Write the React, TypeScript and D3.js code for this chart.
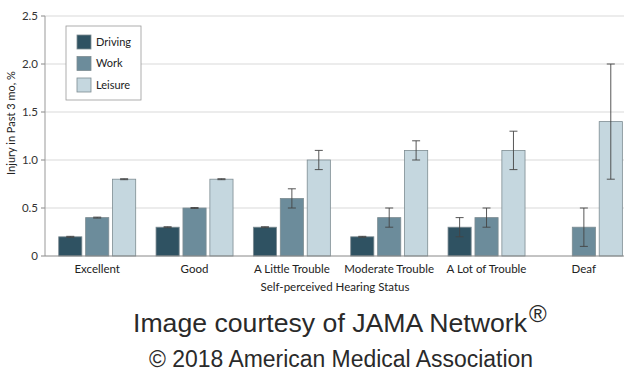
import React from "react";
import * as d3 from "d3";

const categories = ["Excellent", "Good", "A Little Trouble", "Moderate Trouble", "A Lot of Trouble", "Deaf"];
const seriesNames = ["Driving", "Work", "Leisure"];
const drivingValues: (number | null)[] = [0.2, 0.3, 0.3, 0.2, 0.3, null];
const drivingLow: (number | null)[] = [0.195, 0.295, 0.295, 0.195, 0.2, null];
const drivingHigh: (number | null)[] = [0.205, 0.305, 0.305, 0.205, 0.4, null];
const workValues = [0.4, 0.5, 0.6, 0.4, 0.4, 0.3];
const workLow = [0.395, 0.495, 0.5, 0.3, 0.3, 0.1];
const workHigh = [0.405, 0.505, 0.7, 0.5, 0.5, 0.5];
const leisureValues = [0.8, 0.8, 1.0, 1.1, 1.1, 1.4];
const leisureLow = [0.795, 0.795, 0.9, 1.0, 0.9, 0.8];
const leisureHigh = [0.805, 0.805, 1.1, 1.2, 1.3, 2.0];
const yTicks = [0, 0.5, 1.0, 1.5, 2.0, 2.5];
const yTickLabels = ["0", "0.5", "1.0", "1.5", "2.0", "2.5"];
const colors = ["#2f5262", "#6c8c9b", "#c5d7df"];

const FONT = "Lato, 'Open Sans', sans-serif";
const SANS = "'Liberation Sans', Arial, sans-serif";

export default function App() {
  const W = 627, H = 376;
  const left = 45, right = 624, top = 16, bottom = 256;
  const y = d3.scaleLinear().domain([0, 2.5]).range([bottom, top]);
  const x0 = d3.scaleBand<string>().domain(categories).range([48.5, 632.5]).paddingInner(0).paddingOuter(0);
  const x1 = d3.scaleBand<string>().domain(seriesNames).range([10.2, 87.2]).paddingInner(0.14).paddingOuter(0);
  const bw = x1.bandwidth();

  const series = [
    { name: "Driving", vals: drivingValues, lo: drivingLow, hi: drivingHigh },
    { name: "Work", vals: workValues, lo: workLow, hi: workHigh },
    { name: "Leisure", vals: leisureValues, lo: leisureLow, hi: leisureHigh },
  ];

  return (
    <svg width={W} height={H} style={{ position: "absolute", left: 0, top: 0, background: "#fff" }}>
      <rect x={0} y={0} width={W} height={H} fill="#fff" />
      {yTicks.map((t, i) => (
        <g key={i}>
          {t > 0 && <line x1={left} x2={right} y1={y(t)} y2={y(t)} stroke="#e6e6e6" strokeWidth={1.5} />}
          <line x1={left - 4} x2={left} y1={y(t)} y2={y(t)} stroke="#888" />
          <text x={left - 7} y={y(t)} dy="0.35em" textAnchor="end" fontFamily={FONT} fontSize={11.5} fill="#333">
            {yTickLabels[i]}
          </text>
        </g>
      ))}
      <line x1={left} x2={left} y1={top} y2={bottom} stroke="#999" />
      {categories.map((c, ci) => (
        <g key={c} transform={`translate(${x0(c)},0)`}>
          {series.map((s, si) => {
            const v = s.vals[ci];
            if (v == null) return null;
            const bx = x1(s.name)!;
            const lo = s.lo[ci] as number, hi = s.hi[ci] as number;
            const cx = bx + bw / 2;
            return (
              <g key={s.name}>
                <rect x={bx} y={y(v)} width={bw} height={y(0) - y(v)} fill={colors[si]} stroke="#7d8c92" strokeWidth={0.8} />
                <line x1={cx} x2={cx} y1={y(hi)} y2={y(lo)} stroke="#444" strokeWidth={0.9} />
                <line x1={cx - 4} x2={cx + 4} y1={y(hi)} y2={y(hi)} stroke="#444" strokeWidth={0.9} />
                <line x1={cx - 4} x2={cx + 4} y1={y(lo)} y2={y(lo)} stroke="#444" strokeWidth={0.9} />
              </g>
            );
          })}
          <text x={x0.bandwidth() / 2} y={273} textAnchor="middle" fontFamily={FONT} fontSize={11.5} fill="#222">
            {c}
          </text>
        </g>
      ))}
      <line x1={left} x2={right} y1={bottom} y2={bottom} stroke="#888" />
      <text x={335} y={291} textAnchor="middle" fontFamily={FONT} fontSize={11.5} fill="#222">
        Self-perceived Hearing Status
      </text>
      <text transform={`translate(15,123) rotate(-90)`} textAnchor="middle" fontFamily={FONT} fontSize={11} fill="#222">
        Injury in Past 3 mo, %
      </text>
      <g>
        <rect x={66} y={26} width={75} height={74} fill="#fff" stroke="#999" strokeWidth={0.8} />
        {seriesNames.map((n, i) => (
          <g key={n} transform={`translate(77,${35 + i * 21.5})`}>
            <rect x={0} y={0} width={14} height={14} fill={colors[i]} stroke="#7d8c92" strokeWidth={0.8} />
            <text x={19} y={7} dy="0.35em" fontFamily={FONT} fontSize={11} fill="#222">{n}</text>
          </g>
        ))}
      </g>
      <text x={133} y={331.5} fontFamily={SANS} fontSize={25.5} fill="#2a2a2a" textLength={394} lengthAdjust="spacingAndGlyphs">
        Image courtesy of JAMA Network
      </text>
      <text x={529} y={322} fontFamily={SANS} fontSize={24} fill="#2a2a2a">®</text>
      <text x={149} y={366.5} fontFamily={SANS} fontSize={23} fill="#2a2a2a" textLength={384} lengthAdjust="spacingAndGlyphs">
        © 2018 American Medical Association
      </text>
    </svg>
  );
}
